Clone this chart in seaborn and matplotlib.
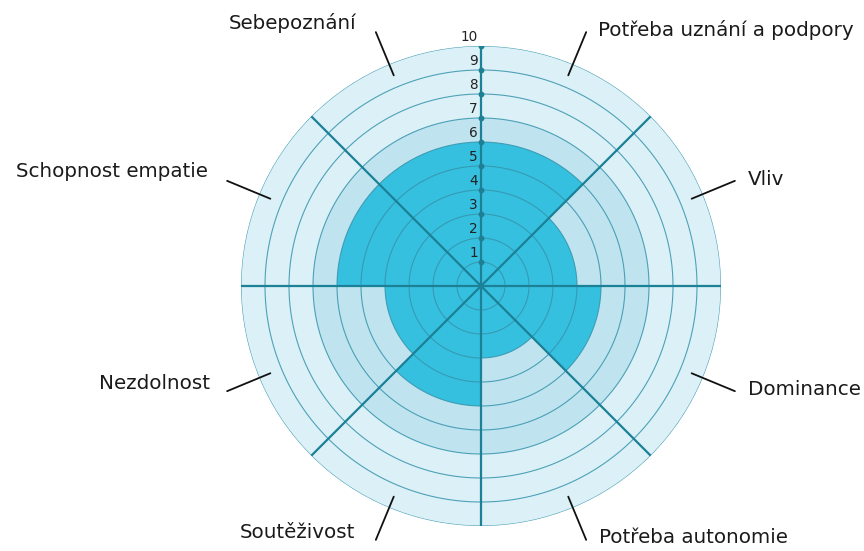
import numpy as np
import matplotlib
matplotlib.use("Agg")
import matplotlib.pyplot as plt
import seaborn as sns

# ---- data ----
categories = ["Vliv", "Potřeba uznání a podpory", "Sebepoznání", "Schopnost empatie",
              "Nezdolnost", "Soutěživost", "Potřeba autonomie", "Dominance"]
scores = [4, 6, 6, 6, 4, 5, 3, 5]
band_level = [7, 7, 7, 7, 7, 7, 7, 7]
scale_max = [10, 10, 10, 10, 10, 10, 10, 10]
tick_values = [1, 2, 3, 4, 5, 6, 7, 8, 9, 10]
tick_labels = ["1", "2", "3", "4", "5", "6", "7", "8", "9", "10"]

# ---- layout / style ----
label_offsets = [(13, 1, "left"), (12, 2, "left"), (-19, 9, "right"), (-19, 9, "right"),
                 (-17, 8, "right"), (-21, 7, "right"), (13, 2, "left"), (13, 2, "left")]

sns.set_theme(style="white")
plt.rcParams["font.family"] = ["DejaVu Sans"]

pal = sns.color_palette(["#36c0e0", "#bfe4f0", "#dcf0f7"])
dark, mid, light = pal
grid_col = "#3594ab"
axis_col = "#1b8196"

W, H = 864, 551
fig = plt.figure(figsize=(W / 100, H / 100), dpi=100)
cx, cy, R = 481, 286, 240
ax = fig.add_axes([(cx - R) / W, (H - cy - R) / H, 2 * R / W, 2 * R / H], projection="polar")
ax.set_ylim(0, 10)
ax.set_xticks([])
ax.set_yticks([])
ax.grid(False)
ax.spines["polar"].set_visible(False)
ax.patch.set_alpha(0)

n = len(categories)
sector = 2 * np.pi / n
theta = np.array([sector * (i + 0.5) for i in range(n)])

ax.bar(theta, scale_max, width=sector, color=light, edgecolor="none", zorder=1)
ax.bar(theta, band_level, width=sector, color=mid, edgecolor="none", zorder=2)
ax.bar(theta, scores, width=sector, color=dark, edgecolor="none", zorder=3)

tt = np.linspace(0, 2 * np.pi, 400)
for k in tick_values:
    ax.plot(tt, np.full_like(tt, k), color=grid_col, lw=0.8, alpha=0.85, zorder=4)

for i in range(n):
    a = sector * i
    ax.plot([a, a], [0, scale_max[i]], color=axis_col, lw=1.6, zorder=5)

# tick dots and labels on the vertical axis
ax.plot(np.full(len(tick_values), np.pi / 2), tick_values, "o", color="#1f7f94",
        markersize=3.2, zorder=6)
for v, lab in zip(tick_values, tick_labels):
    ax.annotate(lab, xy=(np.pi / 2, v), xytext=(-3, 9), textcoords="offset pixels",
                ha="right", va="center", fontsize=9.8, color="#222222", zorder=7)

# category labels with leader lines
for i, cat in enumerate(categories):
    a = theta[i]
    ax.plot([a, a], [9.5, 11.45], color="#111111", lw=1.3, clip_on=False, zorder=6)
    dx, dy, ha = label_offsets[i]
    ax.annotate(cat, xy=(a, 11.45), xytext=(dx, dy), textcoords="offset pixels",
                ha=ha, va="center", fontsize=14.3, color="#1a1a1a",
                annotation_clip=False)

fig.savefig("out.png", dpi=100, facecolor="white")
